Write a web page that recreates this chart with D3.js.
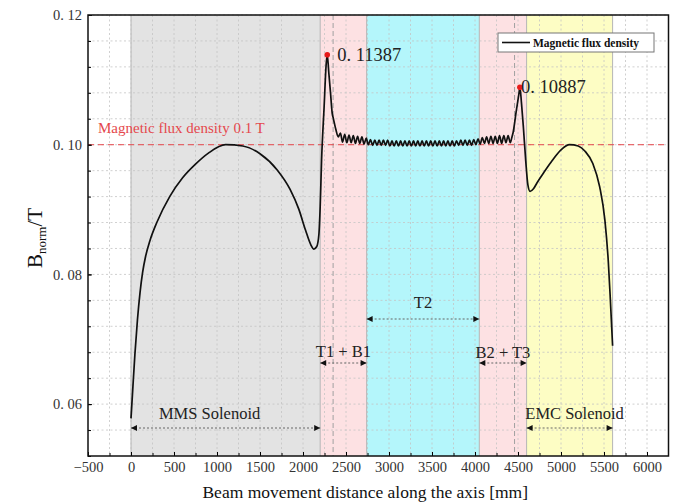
<!DOCTYPE html>
<html><head><meta charset="utf-8">
<script src="https://cdn.jsdelivr.net/npm/d3@7"></script>
<style>
body{margin:0;background:#fff}
text{font-family:"Liberation Serif","Times New Roman",serif}
</style>
</head><body>
<svg id="chart" width="682" height="503"></svg>
<script>
// ---------- data ----------
const distance = [
  0,20,45,75,105,135,170,220,300,450,600,750,900,1100,1300,1500,1700,1850,1950,2030,2090,2127,2160,2185,2200,2216,2245,2270,2282,2300,2320,2340,2352,2383,
  2410,2435,2460,2485,2510,2535,2560,2585,2610,2635,2660,2685,2710,2735,2760,2785,2810,2835,2860,2885,2910,2935,2960,2985,
  3010,3035,3060,3085,3110,3135,3160,3185,3210,3235,3260,3285,3310,3335,3360,3385,3410,3435,3460,3485,
  3510,3535,3560,3585,3610,3635,3660,3685,3710,3735,3760,3785,3810,3835,3860,3885,3910,3935,3960,3985,
  4010,4035,4060,4085,4110,4135,4160,4185,4210,4235,4260,4285,4310,4335,4360,4385,4410,4430,4442,
  4480,4510,4522,4540,4562,4590,4615,4640,4680,4720,4800,4900,5000,5100,5200,5280,5370,5450,5510,5550,5575,5600
];
const fluxDensity = [
  0.0578,0.0622,0.0676,0.0730,0.0772,0.0803,0.0828,0.0852,0.0880,0.0920,0.0949,0.0970,0.0987,0.1000,0.0998,0.0986,0.0961,0.0931,0.0901,0.0868,0.0846,0.0839,0.0843,0.0862,0.0905,0.0976,0.1057,0.1125,0.11387,0.1111,0.1080,0.1048,0.1041,0.1023,
  0.1012,0.1018,0.1004,0.1016,0.1003,0.1015,0.1003,0.1014,0.1002,0.1013,0.1002,0.1012,0.1001,0.1010,0.1000,0.1008,0.0999,0.1007,0.0999,0.1007,0.0999,0.1007,0.0999,0.1007,
  0.0998,0.1006,0.0998,0.1006,0.0998,0.1006,0.0998,0.1006,0.0998,0.1006,0.0998,0.1006,0.0998,0.1006,0.0998,0.1006,0.0998,0.1006,0.0998,0.1006,
  0.0998,0.1006,0.0998,0.1006,0.0998,0.1006,0.0998,0.1006,0.0998,0.1006,0.0998,0.1006,0.0999,0.1007,0.0999,0.1007,0.0999,0.1007,0.0999,0.1008,
  0.1000,0.1009,0.1001,0.1011,0.1002,0.1012,0.1002,0.1013,0.1002,0.1013,0.1002,0.1014,0.1002,0.1014,0.1003,0.1014,0.1003,0.1012,0.1018,
  0.1052,0.1078,0.10887,0.1065,0.1028,0.0975,0.0938,0.0928,0.0932,0.0941,0.0957,0.0976,0.0992,0.1000,0.0998,0.0990,0.0971,0.0935,0.0884,0.0820,0.0758,0.0690
];
const xTickValues = [-500,0,500,1000,1500,2000,2500,3000,3500,4000,4500,5000,5500,6000];
const xTickLabels = ["\u2212500","0","500","1000","1500","2000","2500","3000","3500","4000","4500","5000","5500","6000"];
const yTickValues = [0.06,0.08,0.10,0.12];
const yTickLabels = ["0. 06","0. 08","0. 10","0. 12"];
const regionNames  = ["MMS Solenoid","T1 + B1","T2","B2 + T3","EMC Solenoid"];
const regionStart  = [0,2200,2740,4050,4600];
const regionEnd    = [2200,2740,4050,4600,5600];
const markerLines  = [2350,4460];
const peakX = [2282,4522];
const peakY = [0.11387,0.10887];
const peakLabels = ["0. 11387","0. 10887"];
const referenceValue = 0.1;
const referenceLabel = "Magnetic flux density 0.1 T";
const legendLabel = "Magnetic flux density";

// ---------- layout / style ----------
const regionFill = ["#e3e3e3","#fde1e3","#b4f6fb","#fde1e3","#fdfdc4"];
const arrowY  = [428,363,319,363,428];
const labelY  = [419,357,308,358,419];
const labelDx = [-16,0,0,0,5];

const svg = d3.select("#chart");
const L=88, R=668.5, T=15, B=456;
const x = d3.scaleLinear([-500,6250],[L,R]);
const y = d3.scaleLinear([0.052,0.12],[B,T]);

const defs = svg.append("defs");
defs.append("marker").attr("id","ah").attr("viewBox","0 0 10 10")
  .attr("refX",10).attr("refY",5).attr("markerWidth",8).attr("markerHeight",6)
  .attr("markerUnits","userSpaceOnUse").attr("orient","auto-start-reverse")
  .append("path").attr("d","M0,0L10,5L0,10Z").attr("fill","#111");
defs.append("clipPath").attr("id","clip").append("rect")
  .attr("x",L).attr("y",T).attr("width",R-L).attr("height",B-T);

// regions
const g = svg.append("g");
regionNames.forEach((n,i)=>{
  g.append("rect").attr("x",x(regionStart[i])).attr("y",T)
   .attr("width",x(regionEnd[i])-x(regionStart[i])).attr("height",B-T)
   .attr("fill",regionFill[i]);
});
const borders = Array.from(new Set(regionStart.concat(regionEnd)));
g.selectAll(".bd").data(borders).join("line")
  .attr("x1",d=>x(d)).attr("x2",d=>x(d)).attr("y1",T).attr("y2",B)
  .attr("stroke","#b5b5b5").attr("stroke-width",1);

// grid
const xGrid = d3.range(-250,6250,250);
const yGrid = d3.range(0.056,0.1201,0.004);
g.selectAll(".gx").data(xGrid).join("line")
  .attr("x1",d=>x(d)).attr("x2",d=>x(d)).attr("y1",T).attr("y2",B)
  .attr("stroke","#c4c4c4").attr("stroke-width",0.8).attr("stroke-dasharray","2,2.5");
g.selectAll(".gy").data(yGrid).join("line")
  .attr("x1",L).attr("x2",R).attr("y1",d=>y(d)).attr("y2",d=>y(d))
  .attr("stroke","#c4c4c4").attr("stroke-width",0.8).attr("stroke-dasharray","2,2.5");

// marker dashed lines
g.selectAll(".ml").data(markerLines).join("line")
  .attr("x1",d=>x(d)).attr("x2",d=>x(d)).attr("y1",T).attr("y2",B)
  .attr("stroke","#a0a0a0").attr("stroke-width",1).attr("stroke-dasharray","5,3");

// reference line
g.append("line").attr("x1",L).attr("x2",R).attr("y1",y(referenceValue)).attr("y2",y(referenceValue))
  .attr("stroke","#e5484d").attr("stroke-width",1).attr("stroke-dasharray","6,4");
g.append("text").attr("x",98).attr("y",133).attr("fill","#e5484d").attr("font-size",15)
  .text(referenceLabel);

// region arrows & labels
regionNames.forEach((n,i)=>{
  g.append("line").attr("x1",x(regionStart[i])).attr("x2",x(regionEnd[i]))
   .attr("y1",arrowY[i]).attr("y2",arrowY[i])
   .attr("stroke","#666").attr("stroke-width",1).attr("stroke-dasharray","2,2")
   .attr("marker-start","url(#ah)").attr("marker-end","url(#ah)");
  g.append("text").attr("x",(x(regionStart[i])+x(regionEnd[i]))/2+labelDx[i]).attr("y",labelY[i])
   .attr("text-anchor","middle").attr("font-size",16.5).attr("fill","#222").text(n);
});

// curve
const pts = distance.map((d,i)=>[d,fluxDensity[i]]);
g.append("path").attr("clip-path","url(#clip)").datum(pts)
  .attr("fill","none").attr("stroke","#111").attr("stroke-width",1.7)
  .attr("stroke-linejoin","round")
  .attr("d",d3.line().x(d=>x(d[0])).y(d=>y(d[1])).curve(d3.curveMonotoneX));

// peaks
peakX.forEach((px,i)=>{
  g.append("circle").attr("cx",x(px)).attr("cy",y(peakY[i])).attr("r",2.8).attr("fill","#e81a1a");
});
g.append("text").attr("x",x(peakX[0])+10).attr("y",y(peakY[0])+6).attr("font-size",18.5).attr("fill","#222").text(peakLabels[0]);
g.append("text").attr("x",x(peakX[1])+1).attr("y",y(peakY[1])+6).attr("font-size",18.5).attr("fill","#222").text(peakLabels[1]);

// legend
const lg = svg.append("g");
lg.append("rect").attr("x",498).attr("y",33).attr("width",156).attr("height",19)
  .attr("fill","#fff").attr("stroke","#777").attr("stroke-width",1);
lg.append("line").attr("x1",502).attr("x2",530).attr("y1",42.5).attr("y2",42.5)
  .attr("stroke","#111").attr("stroke-width",1.6);
lg.append("text").attr("x",533).attr("y",46.5).attr("font-size",11.5).attr("font-weight","bold")
  .attr("fill","#111").text(legendLabel);

// axes
const minorX = d3.range(-500,6250,250);
const minorY = d3.range(0.052,0.1201,0.004);
svg.append("g").attr("transform",`translate(0,${B})`)
  .call(d3.axisBottom(x).tickValues(xTickValues).tickFormat((d,i)=>xTickLabels[i]).tickSizeInner(-4).tickSizeOuter(0).tickPadding(6));
svg.append("g").attr("transform",`translate(0,${B})`)
  .call(d3.axisBottom(x).tickValues(minorX).tickFormat("").tickSizeInner(-3).tickSizeOuter(0));
svg.append("g").attr("transform",`translate(${L},0)`)
  .call(d3.axisLeft(y).tickValues(yTickValues).tickFormat((d,i)=>yTickLabels[i]).tickSizeInner(-4).tickSizeOuter(0).tickPadding(6));
svg.append("g").attr("transform",`translate(${L},0)`)
  .call(d3.axisLeft(y).tickValues(minorY).tickFormat("").tickSizeInner(-3).tickSizeOuter(0));
svg.selectAll(".tick text").attr("font-family","Liberation Serif, serif").attr("font-size",14.5).attr("fill","#333");
svg.selectAll(".domain").remove();

// frame
svg.append("rect").attr("x",L).attr("y",T).attr("width",R-L).attr("height",B-T)
  .attr("fill","none").attr("stroke","#111").attr("stroke-width",1.5);

// axis titles
svg.append("text").attr("x",(L+R)/2-13).attr("y",498).attr("text-anchor","middle")
  .attr("font-size",17.5).attr("fill","#111").text("Beam movement distance along the axis [mm]");
const yt = svg.append("text").attr("transform","translate(42,238) rotate(-90)")
  .attr("text-anchor","middle").attr("font-size",21).attr("fill","#111");
yt.append("tspan").text("B");
yt.append("tspan").attr("font-size",13).attr("dy",4).text("norm");
yt.append("tspan").attr("dy",-4).text("/T");
</script>
</body></html>
